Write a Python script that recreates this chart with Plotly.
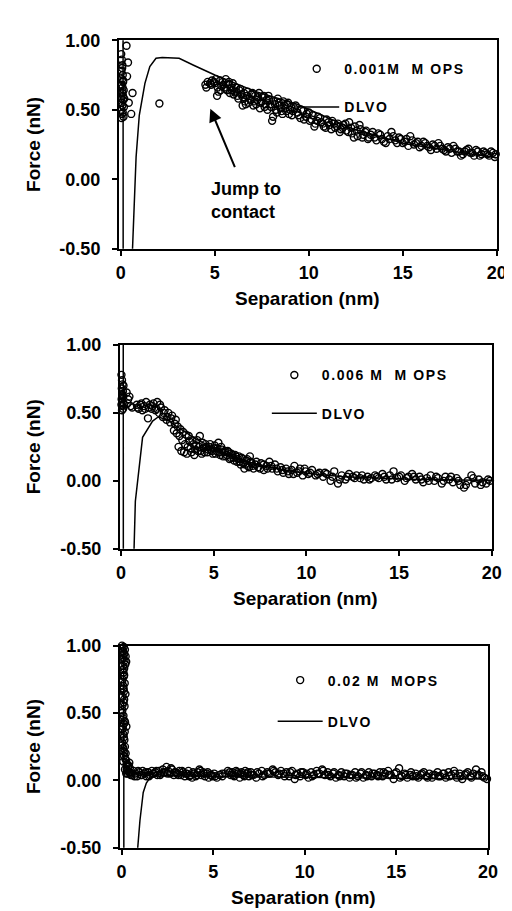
import plotly.graph_objects as go

W, H = 512, 911
FONT = "Arial, Liberation Sans, sans-serif"

# ---------------- data ----------------
x_ticks = [0, 5, 10, 15, 20]
y_ticks = [-0.5, 0.0, 0.5, 1.0]
y_ticktext = ["-0.50", "0.00", "0.50", "1.00"]

series_names = ["0.001M  M OPS", "0.006 M  M OPS", "0.02 M  MOPS"]
model_name = "DLVO"

p1_x_a = [0.02, 0.05, 0.08, 0.03, 0.10, 0.06, 0.12, 0.04, 0.09, 0.15, 0.07, 0.11, 0.02, 0.13, 0.05, 0.08,
          0.16, 0.03, 0.10, 0.06, 0.14, 0.04, 0.09, 0.12, 0.18, 0.07, 0.30, 0.38, 0.33, 0.62, 0.55, 0.42,
          2.05,
          4.50, 4.62, 4.75, 4.85, 4.95, 5.05, 5.12, 5.20, 5.28, 5.35, 5.42, 5.50, 5.58, 5.65, 5.72, 5.80,
          5.88, 5.95, 6.05, 6.12, 6.20, 6.30, 6.40, 6.48, 6.55, 6.65, 6.75, 6.85, 6.95, 7.05, 7.15, 7.25,
          7.35, 7.45, 7.55, 7.65, 7.75, 7.85, 7.95, 8.05, 8.15, 8.25, 8.35, 8.45, 8.55, 8.65, 8.75, 8.85,
          8.95, 9.05, 9.15, 9.30, 9.45, 9.60, 9.75, 9.90, 10.05, 10.20, 10.35, 10.50, 10.65, 10.80, 10.95,
          11.10, 11.25, 11.40, 11.55, 11.70, 11.85, 12.00, 12.15, 12.30, 12.45, 12.60, 12.75, 12.90, 13.05,
          13.20, 13.40, 13.60, 13.80, 14.00, 14.20, 14.40, 14.60, 14.80, 15.00, 15.20, 15.40, 15.60, 15.80,
          16.00, 16.20, 16.40, 16.60, 16.80, 17.00, 17.20, 17.40, 17.60, 17.80, 18.00, 18.20, 18.40, 18.60,
          18.80, 19.00, 19.20, 19.40, 19.60, 19.80, 19.95]
p1_y_a = [0.90, 0.86, 0.82, 0.78, 0.75, 0.72, 0.70, 0.68, 0.66, 0.64, 0.62, 0.60, 0.58, 0.57, 0.55, 0.53,
          0.52, 0.50, 0.48, 0.47, 0.45, 0.44, 0.63, 0.71, 0.58, 0.80, 0.96, 0.84, 0.74, 0.62, 0.47, 0.55,
          0.545,
          0.68, 0.70, 0.69, 0.71, 0.70, 0.72, 0.60, 0.63, 0.71, 0.67, 0.70, 0.66, 0.72, 0.64, 0.68, 0.62,
          0.66, 0.69, 0.63, 0.66, 0.60, 0.64, 0.61, 0.53, 0.62, 0.54, 0.63, 0.58, 0.61, 0.53, 0.60, 0.57,
          0.62, 0.55, 0.59, 0.52, 0.57, 0.60, 0.54, 0.42, 0.56, 0.50, 0.58, 0.53, 0.49, 0.56, 0.51, 0.54,
          0.47, 0.52, 0.49, 0.53, 0.46, 0.50, 0.43, 0.47, 0.42, 0.46, 0.40, 0.45, 0.41, 0.38, 0.43,
          0.39, 0.42, 0.37, 0.40, 0.36, 0.39, 0.35, 0.41, 0.33, 0.38, 0.31, 0.36, 0.32, 0.35,
          0.30, 0.34, 0.28, 0.32, 0.27, 0.31, 0.34, 0.28, 0.30, 0.26, 0.29, 0.31, 0.25, 0.27,
          0.24, 0.26, 0.23, 0.25, 0.22, 0.24, 0.21, 0.23, 0.19, 0.22, 0.20, 0.18, 0.21, 0.19,
          0.17, 0.20, 0.18, 0.19, 0.17, 0.19, 0.18]
p1_x_b = [4.55, 4.80, 5.00, 5.15, 5.30, 5.45, 5.60, 5.75, 5.90, 6.00,
          6.15, 6.25, 6.35, 6.50, 6.60, 6.70, 6.80, 6.90, 7.00, 7.10,
          7.20, 7.30, 7.40, 7.50, 7.60, 7.70, 7.80, 7.90, 8.00, 8.10,
          8.20, 8.30, 8.40, 8.50, 8.60, 8.70, 8.80, 8.90, 9.00, 9.10,
          9.25, 9.40, 9.55, 9.70, 9.85, 10.00, 10.15, 10.30, 10.45, 10.60,
          10.75, 10.90, 11.05, 11.20, 11.35, 11.50, 11.65, 11.80, 11.95, 12.10,
          12.25, 12.40, 12.55, 12.70, 12.85, 13.00, 13.15, 13.30, 13.50, 13.70,
          13.90, 14.10, 14.30, 14.50, 14.70, 14.90, 15.10, 15.30, 15.50, 15.70,
          15.90, 16.10, 16.30, 16.50, 16.70, 16.90, 17.10, 17.30, 17.50, 17.70,
          17.90, 18.10, 18.30, 18.50, 18.70, 18.90, 19.10, 19.30, 19.50, 19.70,
          19.90]
p1_y_b = [0.66, 0.68, 0.69, 0.66, 0.64, 0.68, 0.65, 0.70, 0.64, 0.61,
          0.63, 0.58, 0.65, 0.59, 0.56, 0.60, 0.55, 0.57, 0.62, 0.56,
          0.54, 0.59, 0.51, 0.56, 0.60, 0.54, 0.50, 0.57, 0.52, 0.45,
          0.54, 0.48, 0.55, 0.51, 0.47, 0.53, 0.49, 0.55, 0.50, 0.46,
          0.51, 0.48, 0.44, 0.49, 0.45, 0.48, 0.43, 0.38, 0.42, 0.44,
          0.40, 0.37, 0.41, 0.36, 0.40, 0.38, 0.34, 0.37, 0.40, 0.34,
          0.37, 0.30, 0.35, 0.39, 0.30, 0.34, 0.29, 0.32, 0.30, 0.33,
          0.29, 0.26, 0.29, 0.31, 0.26, 0.29, 0.27, 0.24, 0.28, 0.26,
          0.23, 0.27, 0.24, 0.21, 0.24, 0.26, 0.22, 0.20, 0.22, 0.24,
          0.20, 0.17, 0.20, 0.22, 0.19, 0.21, 0.17, 0.20, 0.18, 0.20,
          0.16]
dlvo1_x = [0.11, 0.13, 0.50, 0.62, 0.81, 0.98, 1.28, 1.54, 1.87, 2.2, 2.8, 3.1, 3.87, 5.0, 7.15, 9.38,
           12.3, 15.07, 17.8, 20.3]
dlvo1_y = [3.0, -3.0, -1.5, -0.50, 0.16, 0.46, 0.69, 0.81, 0.87, 0.875, 0.872, 0.87, 0.82, 0.75, 0.632,
           0.54, 0.365, 0.257, 0.198, 0.15]

# 0.006 M MOPS measured force
p2_x_a = [0.02, 0.05, 0.08, 0.04, 0.10, 0.06, 0.12, 0.03, 0.09, 0.14, 0.07, 0.11, 0.05, 0.13, 0.08, 0.02,
          0.30, 0.38, 0.45, 0.52, 0.35, 0.60,
          0.85, 0.95, 1.05, 1.15, 1.25, 1.35, 1.45, 1.55, 1.65, 1.75, 1.85, 1.95, 2.05, 2.15, 2.25, 2.35,
          2.45, 2.55, 2.65, 2.75, 2.85, 2.95, 3.05, 3.15, 3.25, 3.35, 3.45, 3.55, 3.65, 3.75, 3.85, 3.95,
          4.05, 4.15, 4.25, 4.35, 4.45, 4.55, 4.65, 4.75, 4.85, 4.95, 5.05, 5.15, 5.25, 5.35, 5.45, 5.55,
          5.65, 5.75, 5.85, 5.95, 6.05, 6.15, 6.25, 6.35, 6.45, 6.55, 6.65, 6.75, 6.85, 6.95, 7.05, 7.15,
          7.25, 7.40, 7.55, 7.70, 7.85, 8.00, 8.15, 8.30, 8.45, 8.60, 8.75, 8.90, 9.05, 9.20, 9.35, 9.50,
          9.65, 9.80, 9.95, 10.10, 10.30, 10.50, 10.70, 10.90, 11.10, 11.30, 11.50, 11.70, 11.90, 12.10,
          12.30, 12.50, 12.70, 12.90, 13.10, 13.30, 13.50, 13.70, 13.90, 14.10, 14.30, 14.50, 14.70, 14.90,
          15.10, 15.30, 15.50, 15.70, 15.90, 16.10, 16.30, 16.50, 16.70, 16.90, 17.10, 17.30, 17.50, 17.70,
          17.90, 18.10, 18.30, 18.50, 18.70, 18.90, 19.10, 19.30, 19.50, 19.70, 19.90]
p2_y_a = [0.78, 0.74, 0.71, 0.68, 0.66, 0.64, 0.62, 0.60, 0.58, 0.57, 0.55, 0.53, 0.52, 0.70, 0.63, 0.56,
          0.65, 0.60, 0.62, 0.55, 0.57, 0.54,
          0.56, 0.53, 0.56, 0.52, 0.55, 0.58, 0.46, 0.56, 0.53, 0.57, 0.52, 0.58, 0.50, 0.54, 0.47, 0.52,
          0.45, 0.50, 0.43, 0.48, 0.37, 0.45, 0.40, 0.33, 0.22, 0.36, 0.27, 0.20, 0.33, 0.24, 0.30, 0.19,
          0.26, 0.22, 0.33, 0.20, 0.24, 0.27, 0.21, 0.25, 0.23, 0.20, 0.26, 0.22, 0.28, 0.19, 0.23, 0.21,
          0.18, 0.22, 0.16, 0.20, 0.17, 0.19, 0.14, 0.18, 0.12, 0.16, 0.09, 0.15, 0.11, 0.18, 0.13, 0.09,
          0.12, 0.10, 0.13, 0.08, 0.11, 0.14, 0.09, 0.12, 0.07, 0.10, 0.06, 0.09, 0.05, 0.08, 0.11, 0.06,
          0.09, 0.04, 0.07, 0.05, 0.08, 0.04, 0.06, 0.03, 0.05, 0.00, 0.07, -0.02, 0.04, 0.01,
          0.05, 0.03, 0.04, 0.02, 0.01, 0.03, 0.02, 0.04, 0.02, 0.05, 0.01, 0.04, 0.07, 0.02,
          0.04, 0.00, 0.03, 0.05, 0.01, 0.03, -0.01, 0.02, 0.04, 0.00, 0.02, -0.02, 0.03, 0.01,
          -0.01, 0.02, -0.03, -0.05, 0.00, 0.04, -0.02, 0.01, -0.01, -0.02, 0.00]
p2_x_b = [0.90, 1.10, 1.30, 1.50, 1.70, 1.90, 2.10, 2.30, 2.50, 2.70,
          2.90, 3.00, 3.10, 3.20, 3.30, 3.40, 3.50, 3.60, 3.70, 3.80,
          3.90, 4.00, 4.10, 4.20, 4.30, 4.40, 4.50, 4.60, 4.70, 4.80,
          4.90, 5.00, 5.10, 5.20, 5.30, 5.40, 5.50, 5.60, 5.70, 5.80,
          5.90, 6.00, 6.10, 6.20, 6.30, 6.40, 6.50, 6.60, 6.70, 6.80,
          6.90, 7.00, 7.10, 7.30, 7.50, 7.70, 7.90, 8.10, 8.40, 8.70,
          9.00, 9.30, 9.60, 9.90, 10.20, 10.60, 11.00, 11.40, 11.80, 12.20,
          12.60, 13.00, 13.40, 13.80, 14.20, 14.60, 15.00, 15.40, 15.80, 16.20,
          16.60, 17.00, 17.40, 17.80, 18.20, 18.60, 19.00, 19.40, 19.80]
p2_y_b = [0.54, 0.57, 0.53, 0.54, 0.55, 0.53, 0.56, 0.50, 0.47, 0.46,
          0.42, 0.35, 0.25, 0.38, 0.30, 0.21, 0.34, 0.25, 0.29, 0.21,
          0.27, 0.23, 0.30, 0.25, 0.22, 0.28, 0.21, 0.25, 0.23, 0.27,
          0.22, 0.24, 0.20, 0.24, 0.21, 0.25, 0.18, 0.22, 0.19, 0.21,
          0.17, 0.19, 0.15, 0.18, 0.16, 0.14, 0.17, 0.13, 0.12, 0.16,
          0.10, 0.14, 0.11, 0.14, 0.09, 0.12, 0.09, 0.11, 0.09, 0.08,
          0.07, 0.05, 0.07, 0.09, 0.06, 0.05, 0.06, 0.03, 0.01, 0.03,
          0.02, 0.04, 0.01, 0.03, 0.03, 0.01, 0.03, 0.02, 0.03, 0.01,
          0.00, 0.03, 0.00, 0.03, 0.00, -0.03, 0.02, -0.03, 0.01]
dlvo2_x = [0.11, 0.13, 0.50, 0.72, 0.77, 1.16, 1.70, 2.0, 2.5, 3.0, 4.0, 5.0, 6.0, 7.0, 8.0, 9.0, 10.0,
           12.0, 14.0, 16.0, 18.0, 20.0]
dlvo2_y = [3.0, -3.0, -1.5, -0.50, -0.15, 0.32, 0.44, 0.47, 0.45, 0.40, 0.31, 0.24, 0.18, 0.135, 0.10,
           0.075, 0.055, 0.03, 0.018, 0.01, 0.006, 0.004]

# 0.02 M MOPS measured force
p3_x_a = [0.02, 0.05, 0.08, 0.12, 0.15, 0.18, 0.22, 0.25, 0.03, 0.07, 0.10, 0.14, 0.20, 0.04, 0.09, 0.13,
          0.17, 0.06, 0.11, 0.16, 0.02, 0.08, 0.12, 0.05, 0.10, 0.15, 0.19, 0.03, 0.07, 0.13, 0.18, 0.24,
          0.30, 0.35, 0.28, 0.40, 0.45, 0.33, 0.22, 0.50, 0.06, 0.14, 0.21, 0.04, 0.11, 0.17, 0.09, 0.26,
          0.45, 0.55, 0.65, 0.75, 0.85, 0.95, 1.05, 1.15, 1.25, 1.35, 1.45, 1.55, 1.65, 1.75, 1.85, 1.95,
          2.05, 2.15, 2.25, 2.35, 2.45, 2.55, 2.65, 2.75, 2.85, 2.95, 3.05, 3.15, 3.25, 3.35, 3.45, 3.55,
          3.65, 3.75, 3.85, 3.95, 4.05, 4.15, 4.25, 4.35, 4.45, 4.55, 4.65, 4.75, 4.85, 4.95, 5.05, 5.20,
          5.35, 5.50, 5.65, 5.80, 5.95, 6.05, 6.15, 6.25, 6.35, 6.45, 6.55, 6.65, 6.75, 6.85, 6.95, 7.05,
          7.20, 7.35, 7.50, 7.65, 7.80, 7.95, 8.10, 8.25, 8.40, 8.55, 8.70, 8.85, 9.00, 9.15, 9.30, 9.45,
          9.60, 9.75, 9.90, 10.05, 10.20, 10.35, 10.50, 10.65, 10.80, 10.95, 11.10, 11.25, 11.40, 11.55,
          11.70, 11.85, 12.00, 12.15, 12.30, 12.45, 12.60, 12.75, 12.90, 13.05, 13.20, 13.35, 13.50, 13.65,
          13.80, 13.95, 14.10, 14.25, 14.40, 14.55, 14.70, 14.85, 15.00, 15.15, 15.30, 15.45, 15.60, 15.75,
          15.90, 16.05, 16.20, 16.35, 16.50, 16.65, 16.80, 16.95, 17.10, 17.25, 17.40, 17.55, 17.70, 17.85,
          18.00, 18.15, 18.30, 18.45, 18.60, 18.75, 18.90, 19.05, 19.20, 19.35, 19.50, 19.65, 19.80, 19.95]
p3_y_a = [1.00, 0.98, 0.96, 0.99, 0.94, 0.97, 0.92, 0.88, 0.90, 0.85, 0.80, 0.83, 0.86, 0.75, 0.70, 0.66,
          0.72, 0.62, 0.58, 0.55, 0.50, 0.46, 0.42, 0.38, 0.34, 0.30, 0.43, 0.26, 0.22, 0.18, 0.25, 0.15,
          0.12, 0.10, 0.08, 0.06, 0.09, 0.05, 0.20, 0.04, 0.93, 0.78, 0.64, 0.52, 0.68, 0.36, 0.14, 0.40,
          0.06, 0.04, 0.07, 0.05, 0.03, 0.06, 0.04, 0.07, 0.05, 0.03, 0.06, 0.04, 0.07, 0.05, 0.06, 0.04,
          0.07, 0.05, 0.08, 0.06, 0.10, 0.07, 0.05, 0.08, 0.04, 0.06, 0.05, 0.07, 0.04, 0.06, 0.03, 0.05,
          0.07, 0.04, 0.02, 0.05, 0.03, 0.06, 0.08, 0.04, 0.06, 0.03, 0.05, 0.02, 0.04, 0.03, 0.05, 0.02,
          0.04, 0.03, 0.05, 0.07, 0.04, 0.06, 0.03, 0.07, 0.05, 0.02, 0.06, 0.04, 0.07, 0.05, 0.03, 0.06,
          0.04, 0.02, 0.05, 0.07, 0.04, 0.06, 0.05, 0.08, 0.06, 0.04, 0.07, 0.05, 0.06, 0.03, 0.07, 0.01,
          0.05, 0.03, 0.06, 0.04, 0.02, 0.06, 0.04, 0.07, 0.05, 0.08, 0.04, 0.06, 0.03, 0.05,
          0.02, 0.04, 0.06, 0.03, 0.05, 0.02, 0.04, 0.06, 0.03, 0.05, 0.02, 0.04, 0.06, 0.03,
          0.05, 0.04, 0.06, 0.03, 0.05, 0.07, 0.04, 0.01, 0.06, 0.09, 0.03, 0.05, 0.02, 0.04,
          0.03, 0.05, 0.02, 0.04, 0.06, 0.03, 0.05, 0.02, 0.04, 0.06, 0.03, 0.05, 0.02, 0.06,
          0.04, 0.07, 0.02, 0.05, 0.01, 0.04, 0.06, 0.03, 0.05, 0.08, 0.04, 0.06, 0.02, 0.01]
p3_x_b = [0.04, 0.10, 0.16, 0.06, 0.12, 0.03, 0.08, 0.14, 0.05, 0.10,
          0.16, 0.07, 0.12, 0.04, 0.09, 0.15, 0.20, 0.27, 0.32, 0.38,
          0.18, 0.25, 0.42,
          0.50, 0.70, 0.90, 1.10, 1.30, 1.50, 1.70, 1.90, 2.10, 2.30,
          2.50, 2.70, 2.90, 3.10, 3.30, 3.50, 3.70, 3.90, 4.10, 4.30,
          4.50, 4.70, 4.90, 5.10, 5.50, 5.90, 6.10, 6.30, 6.50, 6.70,
          6.90, 7.10, 7.40, 7.70, 8.00, 8.30, 8.60, 8.90, 9.20, 9.50,
          9.80, 10.10, 10.40, 10.70, 11.00, 11.30, 11.60, 11.90, 12.20, 12.50,
          12.80, 13.10, 13.40, 13.70, 14.00, 14.30, 14.60, 14.90, 15.20, 15.50,
          15.80, 16.10, 16.40, 16.70, 17.00, 17.30, 17.60, 17.90, 18.20, 18.50,
          18.80, 19.10, 19.40, 19.70]
p3_y_b = [0.95, 0.91, 0.89, 0.82, 0.77, 0.73, 0.68, 0.60, 0.56, 0.48,
          0.44, 0.40, 0.32, 0.28, 0.24, 0.21, 0.16, 0.12, 0.07, 0.11,
          0.08, 0.05, 0.13,
          0.05, 0.03, 0.07, 0.04, 0.06, 0.03, 0.05, 0.07, 0.04, 0.06,
          0.05, 0.09, 0.06, 0.04, 0.07, 0.05, 0.03, 0.06, 0.04, 0.07,
          0.05, 0.06, 0.04, 0.03, 0.05, 0.06, 0.04, 0.06, 0.05, 0.03,
          0.06, 0.04, 0.06, 0.03, 0.05, 0.07, 0.05, 0.03, 0.06, 0.04,
          0.06, 0.05, 0.03, 0.05, 0.07, 0.04, 0.06, 0.03, 0.05, 0.04,
          0.02, 0.06, 0.03, 0.05, 0.03, 0.06, 0.04, 0.05, 0.02, 0.04,
          0.06, 0.03, 0.05, 0.02, 0.04, 0.03, 0.05, 0.03, 0.05, 0.03,
          0.05, 0.02, 0.04, 0.03]
dlvo3_x = [0.11, 0.13, 0.60, 0.88, 1.00, 1.18, 1.35, 1.54, 1.80, 2.5, 4.0, 7.0, 10.0, 15.0, 20.0]
dlvo3_y = [3.0, -3.0, -1.5, -0.50, -0.30, -0.09, -0.02, 0.016, 0.03, 0.035, 0.03, 0.025, 0.02, 0.015, 0.01]

p1_x = p1_x_a + p1_x_b
p1_y = p1_y_a + p1_y_b
p2_x = p2_x_a + p2_x_b
p2_y = p2_y_a + p2_y_b
p3_x = p3_x_a + p3_x_b
p3_y = p3_y_a + p3_y_b


# ---------------- layout helpers (pixel boxes) ----------------
def px_x(p):
    return p / W


def px_y(p):
    return 1 - p / H


panels = [
    dict(mx=p1_x, my=p1_y, lx=dlvo1_x, ly=dlvo1_y, name=series_names[0],
         box=(110, 498.3, 22.7, 236), xr=[-0.1, 20], leg=(285, 36), gap=17),
    dict(mx=p2_x, my=p2_y, lx=dlvo2_x, ly=dlvo2_y, name=series_names[1],
         box=(111, 493.3, 334.3, 542.7), xr=[-0.06, 20], leg=(262, 349), gap=17),
    dict(mx=p3_x, my=p3_y, lx=dlvo3_x, ly=dlvo3_y, name=series_names[2],
         box=(111, 489.3, 641.7, 848.3), xr=[-0.09, 20], leg=(268, 661), gap=20),
]

fig = go.Figure()
layout = dict(
    width=W, height=H, margin=dict(l=0, r=0, t=0, b=0),
    paper_bgcolor="white", plot_bgcolor="white", showlegend=True,
    font=dict(family=FONT, color="black"), annotations=[],
)

for i, p in enumerate(panels, start=1):
    sfx = "" if i == 1 else str(i)
    leg = "legend" if i == 1 else "legend" + str(i)
    fig.add_trace(go.Scatter(
        x=p["mx"], y=p["my"], mode="markers",
        name='<span style="letter-spacing:1.6px">' + p["name"] + "</span>",
        xaxis="x" + sfx, yaxis="y" + sfx, legend=leg, legendgroup="m%d" % i, cliponaxis=False,
        marker=dict(symbol="circle-open", size=7, color="black", line=dict(width=1.4, color="black")),
    ))
    fig.add_trace(go.Scatter(
        x=p["lx"], y=p["ly"], mode="lines",
        name='<span style="letter-spacing:1.6px">' + model_name + "</span>",
        xaxis="x" + sfx, yaxis="y" + sfx, legend=leg, legendgroup="l%d" % i,
        line=dict(color="black", width=1.5),
    ))
    l, r, t, b = p["box"]
    layout["xaxis" + sfx] = dict(
        domain=[px_x(l), px_x(r)], range=p["xr"], anchor="y" + sfx,
        tickmode="array", tickvals=x_ticks, ticktext=[str(v) for v in x_ticks],
        ticks="outside", ticklen=5, tickwidth=1.5, tickcolor="black",
        showline=True, linecolor="black", linewidth=2, mirror=True,
        showgrid=False, zeroline=False, ticklabelstandoff=2,
        tickfont=dict(family=FONT, size=18, color="black", weight="bold"),
    )
    layout["yaxis" + sfx] = dict(
        domain=[px_y(b), px_y(t)], range=[-0.5, 1.0], anchor="x" + sfx,
        tickmode="array", tickvals=y_ticks, ticktext=y_ticktext,
        ticks="outside", ticklen=5, tickwidth=1.5, tickcolor="black",
        showline=True, linecolor="black", linewidth=2, mirror=True,
        showgrid=False, zeroline=False, ticklabelstandoff=8,
        tickfont=dict(family=FONT, size=18, color="black", weight="bold"),
    )
    lx, ly = p["leg"]
    layout[leg] = dict(
        x=px_x(lx), y=px_y(ly), xanchor="left", yanchor="top", bgcolor="rgba(0,0,0,0)",
        borderwidth=0, itemwidth=45, tracegroupgap=p["gap"], traceorder="grouped",
        font=dict(family=FONT, size=14, color="black", weight="bold"),
    )
    # axis titles
    layout["annotations"].append(dict(
        text="Separation (nm)", xref="paper", yref="paper", showarrow=False,
        x=px_x((l + r) / 2), y=px_y(b + 51), xanchor="center", yanchor="middle",
        font=dict(family=FONT, size=19, color="black", weight="bold"),
    ))
    layout["annotations"].append(dict(
        text="Force (nN)", xref="paper", yref="paper", showarrow=False, textangle=-90,
        x=px_x(22), y=px_y((t + b) / 2), xanchor="center", yanchor="middle",
        font=dict(family=FONT, size=19, color="black", weight="bold"),
    ))

# jump-to-contact arrow and label on first panel
layout["annotations"].append(dict(
    text="", x=4.76, y=0.508, xref="x", yref="y", showarrow=True,
    ax=6.1, ay=0.077, axref="x", ayref="y",
    arrowhead=2, arrowsize=1.3, arrowwidth=2, arrowcolor="black",
))
layout["annotations"].append(dict(
    text="Jump to<br>contact", x=4.71, y=-0.15, xref="x", yref="y", showarrow=False,
    xanchor="left", yanchor="middle", align="left",
    font=dict(family=FONT, size=18, color="black", weight="bold"),
))

fig.update_layout(**layout)
fig.write_html("out.html")
